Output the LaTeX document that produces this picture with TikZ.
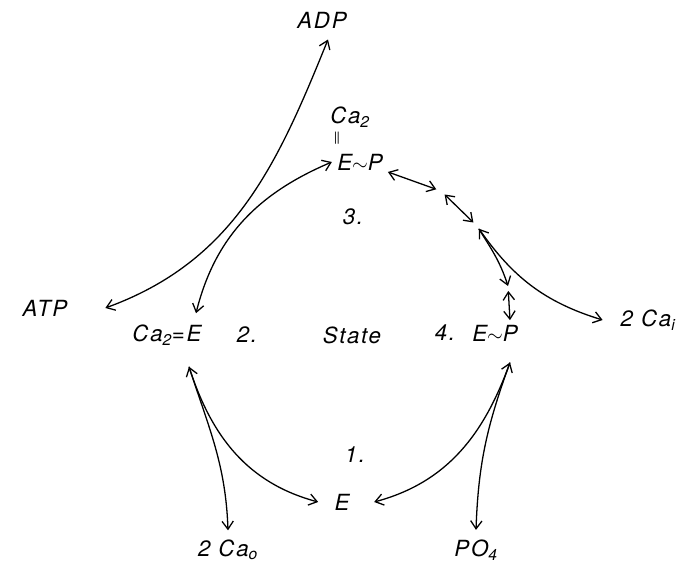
\documentclass[tikz,border=0pt]{standalone}
\usepackage{fontspec}
\setsansfont{TeX Gyre Heros}[LetterSpace=8]
\usetikzlibrary{arrows.meta}
\newcommand{\sbs}[1]{\textsubscript{#1}}
\tikzset{
  chem/.style={font=\sffamily\itshape\fontsize{19}{21}\selectfont, inner sep=1pt},
  reac/.style={line width=1.1pt, {Straight Barb[length=2.4mm,width=3.4mm]}-{Straight Barb[length=2.4mm,width=3.4mm]}},
  oneway/.style={line width=1.1pt, -{Straight Barb[length=2.4mm,width=3.4mm]}},
}
\begin{document}
\begin{tikzpicture}[x=0.03cm,y=0.03cm]
  \useasboundingbox (0,0) rectangle (686,569);
  % States of the cycle
  \node[chem] (ADP) at (322,549) {ADP};
  \node[chem] (Cat) at (350,452) {Ca\sbs{2}};
  \node[chem] (dbl) at (337,431) {\fontsize{11}{11}\selectfont |\kern-0.5pt|};
  \node[chem] (EPt) at (360,407) {E$\sim$P};
  \node[chem] (n3) at (353,352) {3.};
  \node[chem] (ATP) at (45,261) {ATP};
  \node[chem] (CaE) at (167,234) {Ca\sbs{2}=E};
  \node[chem] (n2) at (247,234) {2.};
  \node[chem] (State) at (352,234) {State};
  \node[chem] (n4) at (445,236) {4.};
  \node[chem] (EP) at (495,236) {E$\sim$P};
  \node[chem] (Cai) at (648,249) {2 Ca\sbs{i}};
  \node[chem] (n1) at (355,114) {1.};
  \node[chem] (E) at (342,67) {E};
  \node[chem] (Cao) at (228,19) {2 Ca\sbs{o}};
  \node[chem] (PO) at (476,19) {PO\sbs{4}};
  % intermediate steps between 3. and 4.
  \coordinate (i1) at (441,378);
  \coordinate (i2) at (477,343);
  \coordinate (i3) at (508,283);
  % step 2 -> 3
  \draw[reac] ([xshift=1.1cm]ATP.east) to[out=20,in=248] ([shift={(0.18cm,-0.3cm)}]ADP.south);
  \draw[reac] ([shift={(0.87cm,0.3cm)}]CaE.north) to[out=76,in=203] ([xshift=-0.12cm]EPt.west);
  % step 3 -> 4
  \draw[reac, shorten <=0.12cm, shorten >=0.15cm] (EPt) -- (i1);
  \draw[reac, shorten <=0.15cm, shorten >=0.15cm] (i1) -- (i2);
  \draw[reac, shorten <=0.1cm] (i2) to[out=-55,in=163] ([xshift=-0.5cm]Cai.west);
  \draw[oneway, shorten <=0.1cm] (i2) to[out=-58,in=108] (i3);
  \draw[reac, shorten <=0.15cm] (i3) -- ([xshift=0.45cm,yshift=0.1cm]EP.north);
  % step 4 -> 1
  \draw[reac] ([xshift=0.45cm,yshift=-0.6cm]EP.south) to[out=-110,in=15] ([xshift=0.7cm]E.east);
  \draw[oneway] ([xshift=0.45cm,yshift=-0.6cm]EP.south) to[out=-110,in=88] ([yshift=0.25cm]PO.north);
  % step 1 -> 2
  \draw[reac] ([xshift=0.66cm,yshift=-0.6cm]CaE.south) to[out=-72,in=165] ([xshift=-0.45cm]E.west);
  \draw[oneway] ([xshift=0.66cm,yshift=-0.6cm]CaE.south) to[out=-72,in=92] ([yshift=0.25cm]Cao.north);
\end{tikzpicture}
\end{document}
